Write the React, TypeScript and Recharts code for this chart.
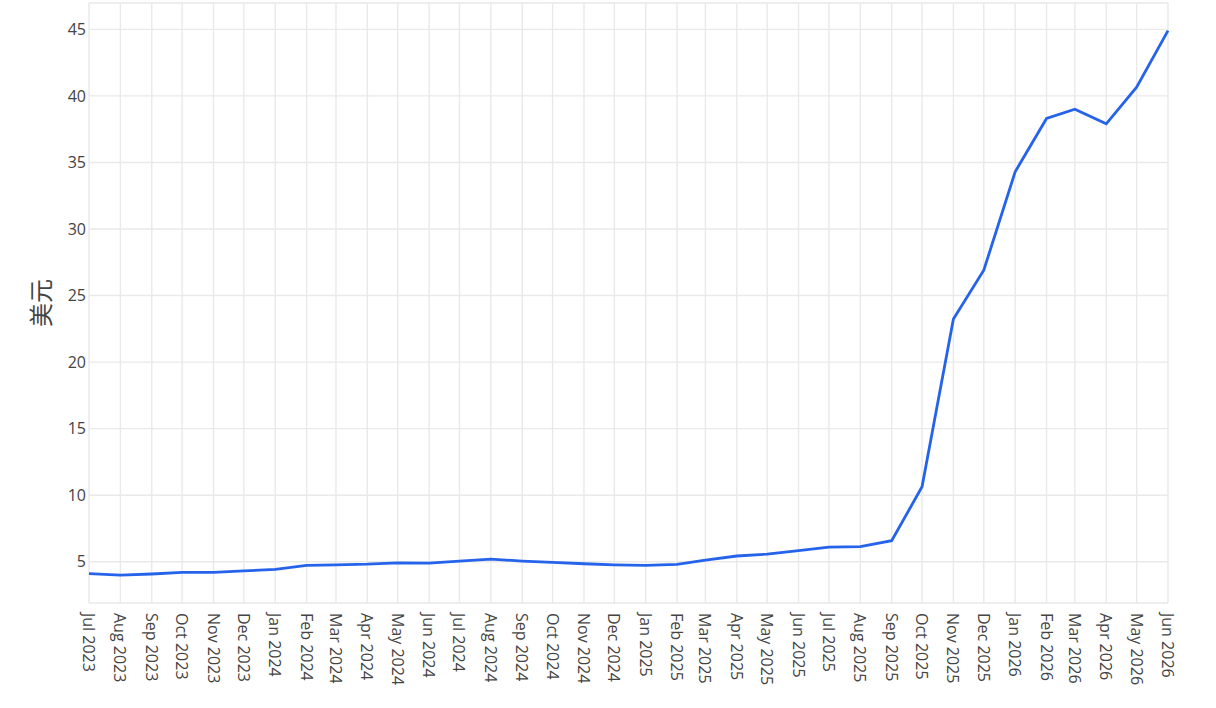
import React from "react";
import { LineChart, Line, XAxis, YAxis, CartesianGrid } from "recharts";

const months = [
  "Jul 2023", "Aug 2023", "Sep 2023", "Oct 2023", "Nov 2023", "Dec 2023",
  "Jan 2024", "Feb 2024", "Mar 2024", "Apr 2024", "May 2024", "Jun 2024",
  "Jul 2024", "Aug 2024", "Sep 2024", "Oct 2024", "Nov 2024", "Dec 2024",
  "Jan 2025", "Feb 2025", "Mar 2025", "Apr 2025", "May 2025", "Jun 2025",
  "Jul 2025", "Aug 2025", "Sep 2025", "Oct 2025", "Nov 2025", "Dec 2025",
  "Jan 2026", "Feb 2026", "Mar 2026", "Apr 2026", "May 2026", "Jun 2026",
];

const prices = [
  4.1, 4.0, 4.08, 4.2, 4.2, 4.32,
  4.42, 4.72, 4.77, 4.82, 4.92, 4.9,
  5.05, 5.2, 5.05, 4.95, 4.85, 4.77,
  4.72, 4.8, 5.12, 5.43, 5.57, 5.83,
  6.1, 6.13, 6.58, 10.63, 23.23, 26.9,
  34.3, 38.3, 39.0, 37.9, 40.65, 44.9,
];

const yTicks = [5, 10, 15, 20, 25, 30, 35, 40, 45];
const yLabel = "美元";

const MON = ["Jan", "Feb", "Mar", "Apr", "May", "Jun", "Jul", "Aug", "Sep", "Oct", "Nov", "Dec"];
const toTime = (label: string) => {
  const [m, y] = label.split(" ");
  return Date.UTC(parseInt(y), MON.indexOf(m), 1);
};

const data = months.map((m, i) => ({ t: toTime(m), label: m, price: prices[i] }));
const xTicks = data.map(d => d.t);
const labelOf: Record<number, string> = {};
data.forEach(d => { labelOf[d.t] = d.label; });

const TEXT = "#444";
const FONT = "'Open Sans', sans-serif";

const XTick = ({ x, y, payload }: any) => (
  <text x={x} y={y} transform={`rotate(90, ${x}, ${y})`} textAnchor="start"
    dominantBaseline="central" fill={TEXT} fontSize={16} fontFamily={FONT}>
    {labelOf[payload.value]}
  </text>
);

const YTitle = ({ viewBox }: any) => {
  const cy = viewBox.y + viewBox.height / 2;
  return (
    <text x={39} y={cy} transform={`rotate(-90, 39, ${cy})`} textAnchor="middle"
      dominantBaseline="central" fill={TEXT} fontSize={24} fontFamily="'Noto Sans CJK SC', sans-serif">
      {yLabel}
    </text>
  );
};

export default function App() {
  return (
    <div style={{ position: "absolute", left: 0, top: 0, background: "#fff" }}>
      <LineChart width={1216} height={708} data={data}
        margin={{ top: 3, right: 48, bottom: 0, left: 0 }}>
        <CartesianGrid stroke="#e9e9e9" strokeWidth={1.4} />
        <XAxis dataKey="t" type="number" domain={[xTicks[0], xTicks[xTicks.length - 1]]}
          ticks={xTicks} interval={0} height={105} axisLine={false} tickLine={false}
          tickSize={0} tickMargin={10} tick={<XTick />} />
        <YAxis type="number" domain={[1.9, 46.98]} ticks={yTicks} width={89}
          axisLine={false} tickLine={false} tickSize={0} tickMargin={3}
          tick={{ fill: TEXT, fontSize: 16, fontFamily: FONT }}
          label={<YTitle />} />
        <Line type="linear" dataKey="price" stroke="#2563eb" strokeWidth={2.8}
          dot={false} isAnimationActive={false} />
      </LineChart>
    </div>
  );
}
